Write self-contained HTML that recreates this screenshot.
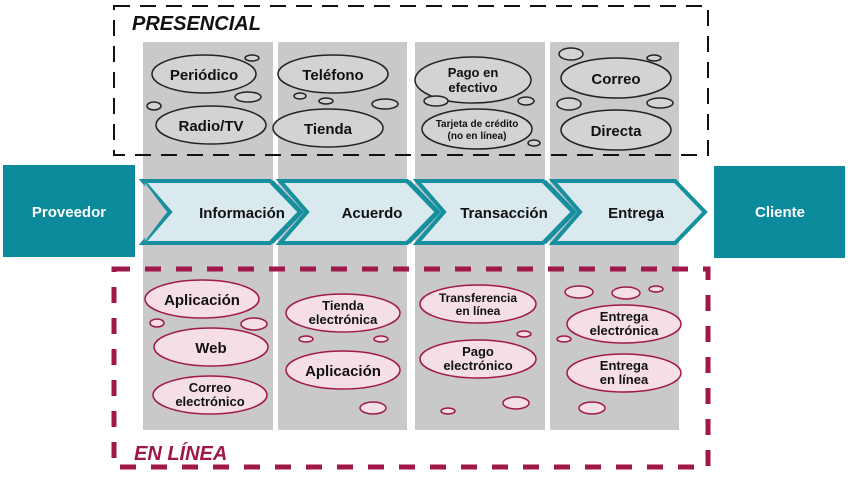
<!DOCTYPE html>
<html><head><meta charset="utf-8"><style>body{margin:0;background:#fff}svg{display:block}text{font-family:"Liberation Sans",sans-serif;font-weight:bold}</style></head><body>
<svg width="850" height="477" viewBox="0 0 850 477" xmlns="http://www.w3.org/2000/svg">
<g fill="#c9c9c9">
<rect x="143" y="42" width="130" height="388"/><rect x="278" y="42" width="129" height="388"/>
<rect x="415" y="42" width="130" height="388"/><rect x="550" y="42" width="129" height="388"/>
</g>
<rect x="114" y="6" width="594" height="149" fill="none" stroke="#111" stroke-width="2" stroke-dasharray="16,10"/>
<text x="132" y="30" font-size="20" font-style="italic" fill="#111">PRESENCIAL</text>
<rect x="114" y="269" width="594" height="198" fill="none" stroke="#a0174a" stroke-width="5" stroke-dasharray="16,15"/>
<text x="134" y="460" font-size="20" font-style="italic" fill="#a0174a">EN LÍNEA</text>
<rect x="3" y="165" width="132" height="92" fill="#0a8a9a"/>
<text x="69" y="217" font-size="15" fill="#fff" text-anchor="middle">Proveedor</text>
<rect x="714" y="166" width="131" height="92" fill="#0a8a9a"/>
<text x="780" y="217" font-size="15" fill="#fff" text-anchor="middle">Cliente</text>
<g fill="#d9e9ee" stroke="#16909f" stroke-width="4" stroke-linejoin="miter">
<polygon points="143,181 270,181 300,212 270,243 143,243 170,212"/>
<polygon points="280,181 407,181 437,212 407,243 280,243 307,212"/>
<polygon points="417,181 543,181 573,212 543,243 417,243 444,212"/>
<polygon points="553,181 675,181 705,212 675,243 553,243 580,212"/>
</g>
<g fill="none" stroke="#16909f" stroke-width="3">
<polyline points="272,181 302,212 272,243"/><polyline points="409,181 439,212 409,243"/><polyline points="545,181 575,212 545,243"/>
</g>
<polygon points="145,183 167,212 145,241" fill="#c9c9c9"/>
<g font-size="15" fill="#111" text-anchor="middle">
<text x="242" y="218">Información</text><text x="372" y="218">Acuerdo</text>
<text x="504" y="218">Transacción</text><text x="636" y="218">Entrega</text>
</g>
<g fill="#d3d3d3" stroke="#222" stroke-width="1.5">
<ellipse cx="204" cy="74" rx="52" ry="19"/><ellipse cx="252" cy="58" rx="7" ry="3"/><ellipse cx="248" cy="97" rx="13" ry="5"/><ellipse cx="154" cy="106" rx="7" ry="4"/>
<ellipse cx="211" cy="125" rx="55" ry="19"/>
<ellipse cx="333" cy="74" rx="55" ry="19"/><ellipse cx="300" cy="96" rx="6" ry="3"/><ellipse cx="326" cy="101" rx="7" ry="3"/><ellipse cx="385" cy="104" rx="13" ry="5"/>
<ellipse cx="328" cy="128" rx="55" ry="19"/>
<ellipse cx="473" cy="80" rx="58" ry="23"/><ellipse cx="436" cy="101" rx="12" ry="5"/><ellipse cx="526" cy="101" rx="8" ry="4"/>
<ellipse cx="477" cy="129" rx="55" ry="20"/><ellipse cx="534" cy="143" rx="6" ry="3"/>
<ellipse cx="616" cy="78" rx="55" ry="20"/><ellipse cx="571" cy="54" rx="12" ry="6"/><ellipse cx="654" cy="58" rx="7" ry="3"/><ellipse cx="569" cy="104" rx="12" ry="6"/><ellipse cx="660" cy="103" rx="13" ry="5"/>
<ellipse cx="616" cy="130" rx="55" ry="20"/>
</g>
<g font-size="15" fill="#111" text-anchor="middle">
<text x="204" y="80">Periódico</text><text x="211" y="131">Radio/TV</text>
<text x="333" y="80">Teléfono</text><text x="328" y="134">Tienda</text>
<text x="473" y="77" font-size="13">Pago en</text><text x="473" y="92" font-size="13">efectivo</text>
<text x="477" y="127" font-size="10">Tarjeta de crédito</text><text x="477" y="139" font-size="10">(no en línea)</text>
<text x="616" y="84">Correo</text><text x="616" y="136">Directa</text>
</g>
<g fill="#f5dfe5" stroke="#a0174a" stroke-width="1.5">
<ellipse cx="202" cy="299" rx="57" ry="19"/><ellipse cx="157" cy="323" rx="7" ry="4"/><ellipse cx="254" cy="324" rx="13" ry="6"/>
<ellipse cx="211" cy="347" rx="57" ry="19"/>
<ellipse cx="210" cy="395" rx="57" ry="19"/>
<ellipse cx="343" cy="313" rx="57" ry="19"/><ellipse cx="306" cy="339" rx="7" ry="3"/><ellipse cx="381" cy="339" rx="7" ry="3"/>
<ellipse cx="343" cy="370" rx="57" ry="19"/><ellipse cx="373" cy="408" rx="13" ry="6"/>
<ellipse cx="478" cy="304" rx="58" ry="19"/><ellipse cx="524" cy="334" rx="7" ry="3"/>
<ellipse cx="478" cy="359" rx="58" ry="19"/><ellipse cx="516" cy="403" rx="13" ry="6"/><ellipse cx="448" cy="411" rx="7" ry="3"/>
<ellipse cx="624" cy="324" rx="57" ry="19"/><ellipse cx="579" cy="292" rx="14" ry="6"/><ellipse cx="626" cy="293" rx="14" ry="6"/><ellipse cx="656" cy="289" rx="7" ry="3"/><ellipse cx="564" cy="339" rx="7" ry="3"/>
<ellipse cx="624" cy="373" rx="57" ry="19"/><ellipse cx="592" cy="408" rx="13" ry="6"/>
</g>
<g font-size="15" fill="#111" text-anchor="middle">
<text x="202" y="305">Aplicación</text><text x="211" y="353">Web</text>
<text x="210" y="392" font-size="13">Correo</text><text x="210" y="406" font-size="13">electrónico</text>
<text x="343" y="310" font-size="13">Tienda</text><text x="343" y="324" font-size="13">electrónica</text>
<text x="343" y="376">Aplicación</text>
<text x="478" y="302" font-size="12">Transferencia</text><text x="478" y="315" font-size="12">en línea</text>
<text x="478" y="356" font-size="13">Pago</text><text x="478" y="370" font-size="13">electrónico</text>
<text x="624" y="321" font-size="13">Entrega</text><text x="624" y="335" font-size="13">electrónica</text>
<text x="624" y="370" font-size="13">Entrega</text><text x="624" y="384" font-size="13">en línea</text>
</g>
</svg>
</body></html>
